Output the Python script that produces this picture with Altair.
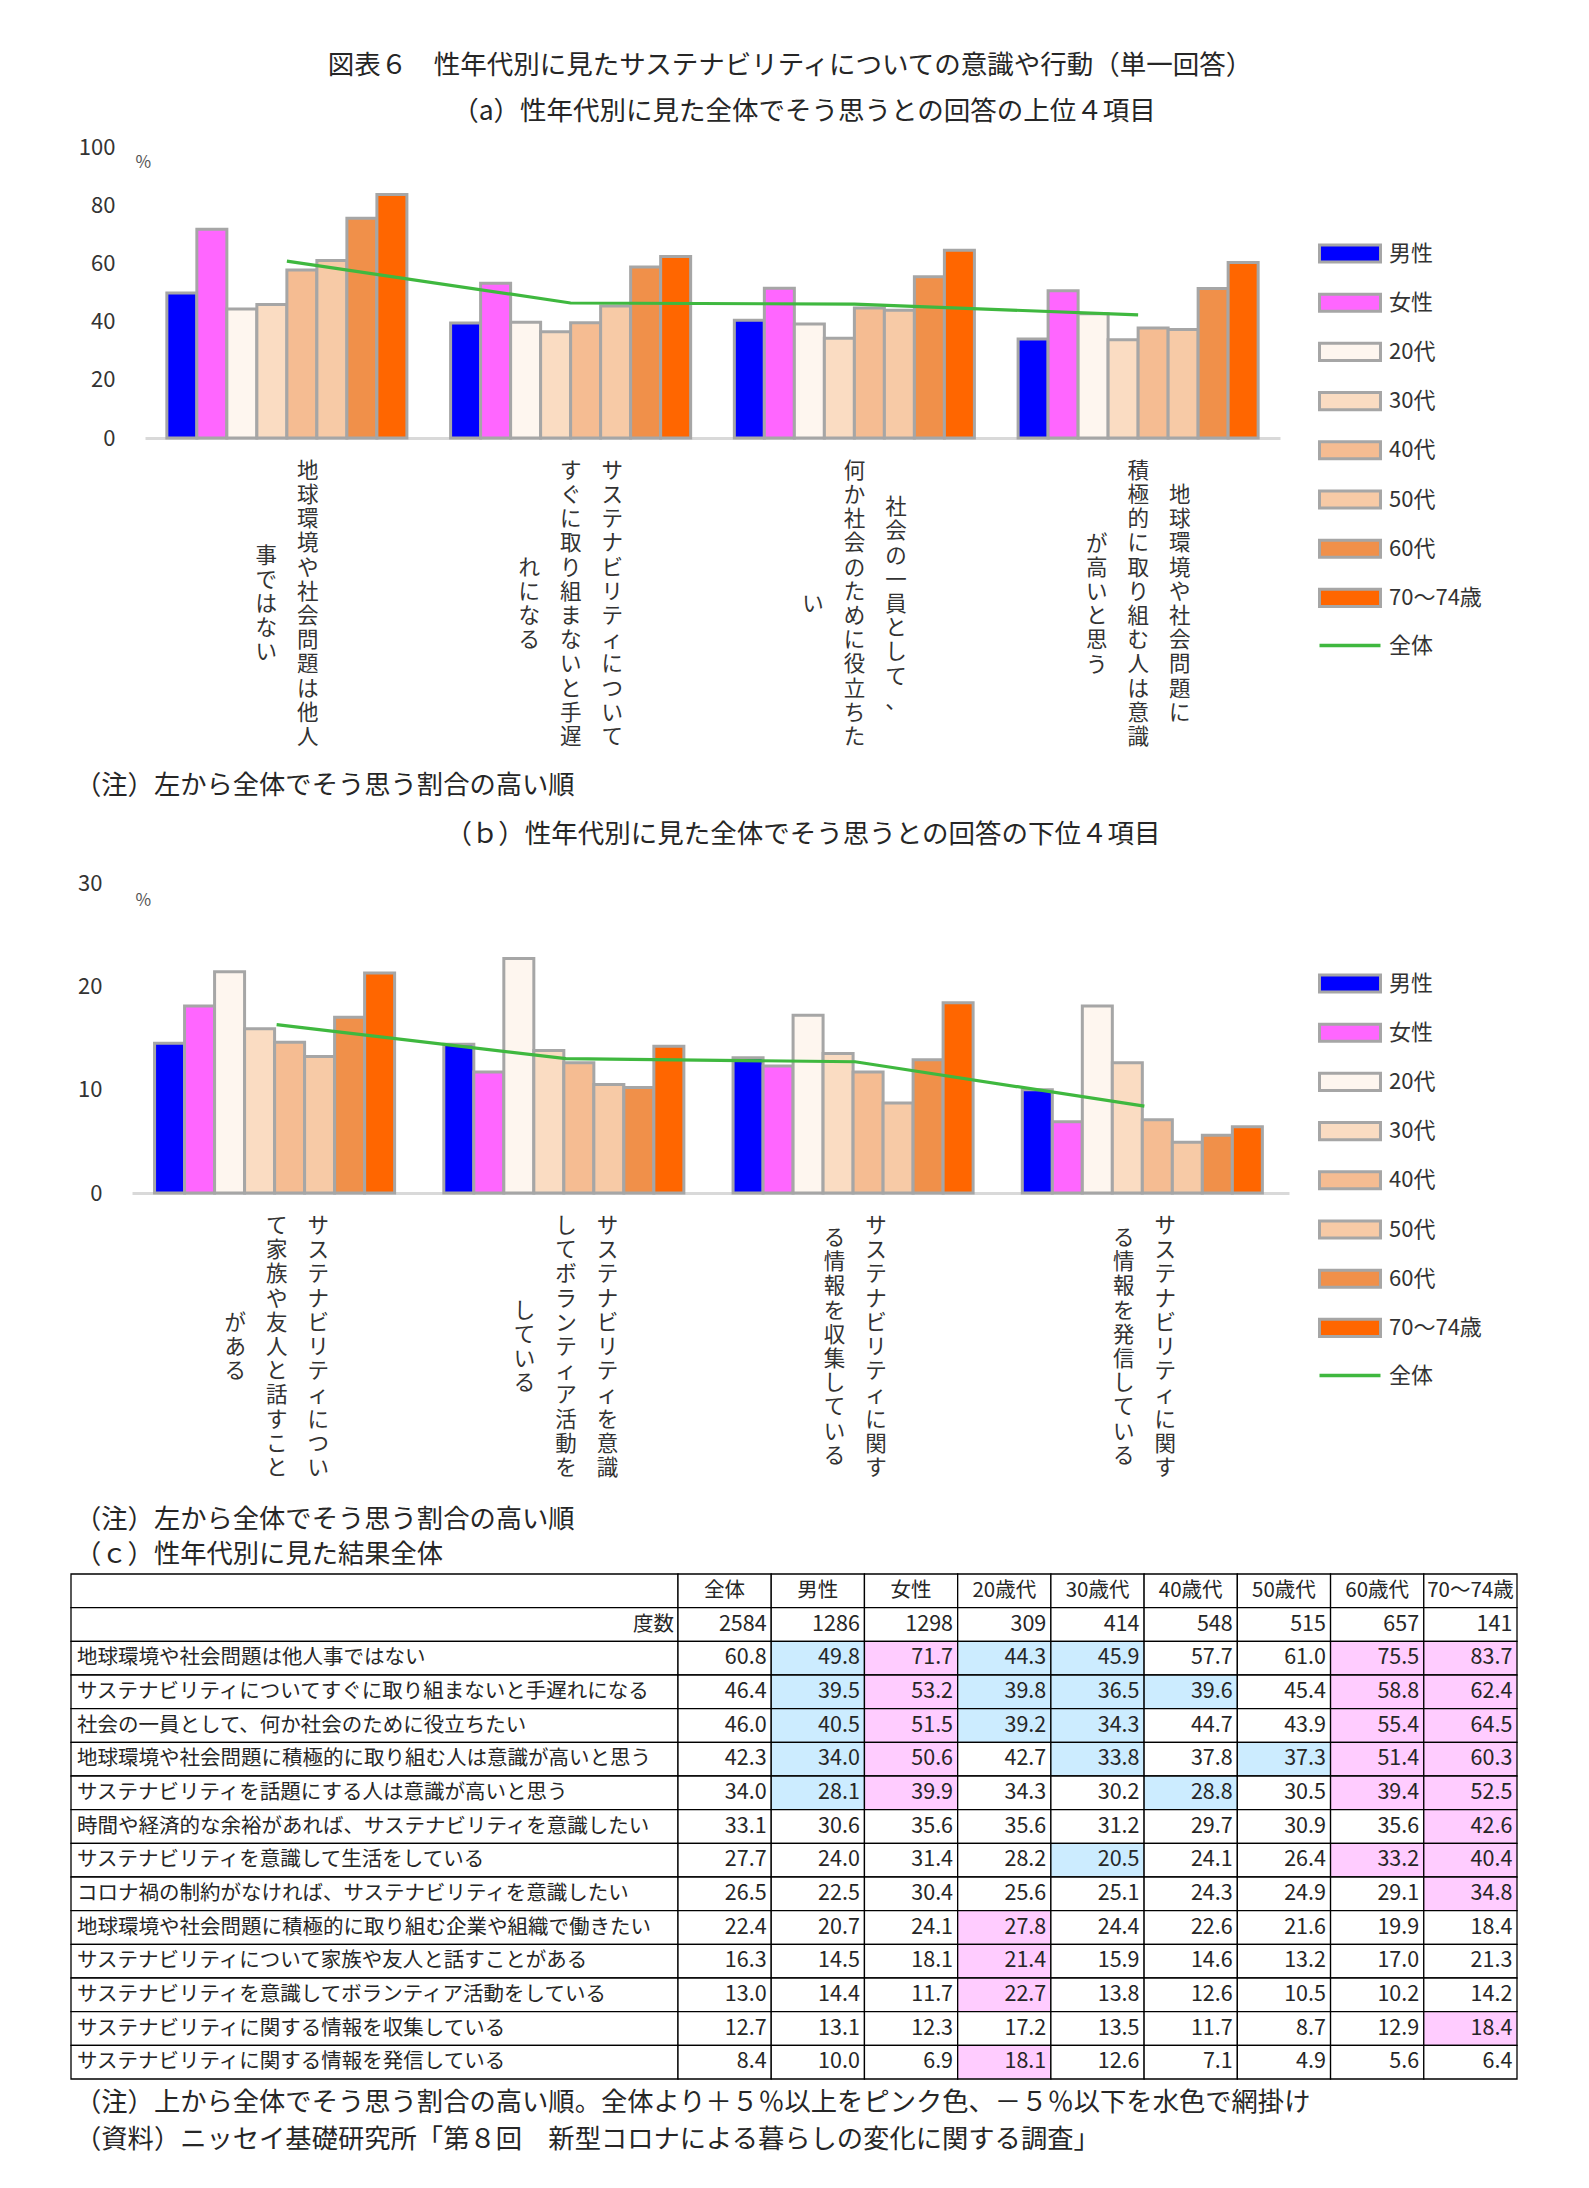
import altair as alt
import pandas as pd

FONT = "Noto Sans CJK JP"
TXT = "#262626"
GRAY = "#a6a6a6"
GREEN = "#3fb83f"

# ---------------- data ----------------
items = [
    "地球環境や社会問題は他人事ではない",
    "サステナビリティについてすぐに取り組まないと手遅れになる",
    "社会の一員として、何か社会のために役立ちたい",
    "地球環境や社会問題に積極的に取り組む人は意識が高いと思う",
    "サステナビリティを話題にする人は意識が高いと思う",
    "時間や経済的な余裕があれば、サステナビリティを意識したい",
    "サステナビリティを意識して生活をしている",
    "コロナ禍の制約がなければ、サステナビリティを意識したい",
    "地球環境や社会問題に積極的に取り組む企業や組織で働きたい",
    "サステナビリティについて家族や友人と話すことがある",
    "サステナビリティを意識してボランティア活動をしている",
    "サステナビリティに関する情報を収集している",
    "サステナビリティに関する情報を発信している",
]
total = [60.8, 46.4, 46.0, 42.3, 34.0, 33.1, 27.7, 26.5, 22.4, 16.3, 13.0, 12.7, 8.4]
male = [49.8, 39.5, 40.5, 34.0, 28.1, 30.6, 24.0, 22.5, 20.7, 14.5, 14.4, 13.1, 10.0]
female = [71.7, 53.2, 51.5, 50.6, 39.9, 35.6, 31.4, 30.4, 24.1, 18.1, 11.7, 12.3, 6.9]
age20 = [44.3, 39.8, 39.2, 42.7, 34.3, 35.6, 28.2, 25.6, 27.8, 21.4, 22.7, 17.2, 18.1]
age30 = [45.9, 36.5, 34.3, 33.8, 30.2, 31.2, 20.5, 25.1, 24.4, 15.9, 13.8, 13.5, 12.6]
age40 = [57.7, 39.6, 44.7, 37.8, 28.8, 29.7, 24.1, 24.3, 22.6, 14.6, 12.6, 11.7, 7.1]
age50 = [61.0, 45.4, 43.9, 37.3, 30.5, 30.9, 26.4, 24.9, 21.6, 13.2, 10.5, 8.7, 4.9]
age60 = [75.5, 58.8, 55.4, 51.4, 39.4, 35.6, 33.2, 29.1, 19.9, 17.0, 10.2, 12.9, 5.6]
age70 = [83.7, 62.4, 64.5, 60.3, 52.5, 42.6, 40.4, 34.8, 18.4, 21.3, 14.2, 18.4, 6.4]
counts = [2584, 1286, 1298, 309, 414, 548, 515, 657, 141]

# shading of table cells (男性..70～74歳): p = pink, b = light blue, . = none
shades = [
    "bpbb..pp", "bpbbb.pp", "bpbb..pp", "bp.b.bpp", "bp..b.pp",
    ".......p", "...b..pp", ".......p", "..p.....", "..p.....",
    "..p.....", ".......p", "..p.....",
]

series = ["男性", "女性", "20代", "30代", "40代", "50代", "60代", "70～74歳"]
series_arrays = [male, female, age20, age30, age40, age50, age60, age70]
fills = ["#0000ff", "#ff66ff", "#fef6ef", "#fadcc2", "#f5bc92", "#f7caa6", "#f0904a", "#ff6600"]

table_cols = ["全体", "男性", "女性", "20歳代", "30歳代", "40歳代", "50歳代", "60歳代", "70～74歳"]
table_arrays = [total] + series_arrays

labels_a = [
    ["地球環境や社会問題は他人", "事ではない"],
    ["サステナビリティについて", "すぐに取り組まないと手遅", "れになる"],
    ["社会の一員として、", "何か社会のために役立ちた", "い"],
    ["地球環境や社会問題に", "積極的に取り組む人は意識", "が高いと思う"],
]
labels_b = [
    ["サステナビリティについ", "て家族や友人と話すこと", "がある"],
    ["サステナビリティを意識", "してボランティア活動を", "している"],
    ["サステナビリティに関す", "る情報を収集している"],
    ["サステナビリティに関す", "る情報を発信している"],
]
rows_a = [0, 1, 2, 3]
rows_b = [9, 10, 11, 12]
ticks_a = [0, 20, 40, 60, 80, 100]
ticks_b = [0, 10, 20, 30]

title1 = "図表６　性年代別に見たサステナビリティについての意識や行動（単一回答）"
title_a = "（a）性年代別に見た全体でそう思うとの回答の上位４項目"
title_b = "（ｂ）性年代別に見た全体でそう思うとの回答の下位４項目"
title_c = "（ｃ）性年代別に見た結果全体"
note_ab = "（注）左から全体でそう思う割合の高い順"
note_c = "（注）上から全体でそう思う割合の高い順。全体より＋５％以上をピンク色、－５％以下を水色で網掛け"
source = "（資料）ニッセイ基礎研究所「第８回　新型コロナによる暮らしの変化に関する調査」"

# ---------------- layout constants ----------------
W = 1446
COLSTEP = 41.5
LINE_H = 24.2
LEG_X = 1262
LEG_STEP = 49.2
NOTE_SIZE = 26.3
TITLE_SIZE = 26.5


def text_layer(t, x, y, size=NOTE_SIZE, align="left"):
    return alt.Chart(pd.DataFrame({"t": [t]})).mark_text(
        align=align, baseline="middle", fontSize=size, color=TXT, font=FONT
    ).encode(x=alt.value(x), y=alt.value(y), text="t:N")


def xscale(rows, xrange, pin, pout):
    dom = [items[r] for r in rows]
    return dom, alt.Scale(domain=dom, range=xrange, paddingInner=pin, paddingOuter=pout)


def bar_chart(rows, ymax, yvals, height, xrange, pin, pout, yoff, tx, ty, leg_y):
    dom, xs = xscale(rows, xrange, pin, pout)
    recs = []
    for r in rows:
        for s, arr in zip(series, series_arrays):
            recs.append({"item": items[r], "series": s, "value": arr[r]})
    df = pd.DataFrame(recs)
    xaxis = alt.Axis(labels=False, ticks=False, title=None, grid=False,
                     domainColor="#d9d9d9", domainWidth=3)
    yaxis = alt.Axis(values=yvals, grid=False, domain=False, ticks=False, tickSize=0,
                     labelPadding=0, offset=yoff, labelFontSize=22, labelColor="#333333",
                     labelFont=FONT, title="%", titleAngle=0, titleX=tx, titleY=ty,
                     titleAlign="left", titleBaseline="middle", titleFontSize=17,
                     titleFontWeight="normal", titleColor="#555555", titleFont=FONT)
    yscale = alt.Scale(domain=[0, ymax])
    bars = alt.Chart(df).mark_bar(stroke=GRAY, strokeWidth=3).encode(
        x=alt.X("item:N", sort=dom, scale=xs, axis=xaxis),
        xOffset=alt.XOffset("series:N", sort=series,
                            scale=alt.Scale(domain=series, paddingInner=0, paddingOuter=0)),
        y=alt.Y("value:Q", scale=yscale, axis=yaxis),
        fill=alt.Fill("series:N", sort=series, scale=alt.Scale(domain=series, range=fills),
                      legend=alt.Legend(orient="none", legendX=LEG_X, legendY=leg_y, title=None,
                                        symbolType="M-2,-0.56H2V0.56H-2Z", symbolSize=930,
                                        symbolStrokeColor=GRAY, symbolStrokeWidth=3,
                                        labelFontSize=22, labelFont=FONT, labelColor="#333333",
                                        labelOffset=22, rowPadding=LEG_STEP - 32, padding=0)),
    )
    ldf = pd.DataFrame({"item": dom, "value": [total[r] for r in rows], "k": "全体"})
    line = alt.Chart(ldf).mark_line(strokeWidth=3.2).encode(
        x=alt.X("item:N", sort=dom, scale=xs, axis=xaxis),
        y=alt.Y("value:Q", scale=yscale, axis=yaxis),
        stroke=alt.Stroke("k:N", scale=alt.Scale(domain=["全体"], range=[GREEN]),
                          legend=alt.Legend(orient="none", legendX=LEG_X,
                                            legendY=leg_y + 8 * LEG_STEP - 1.5, title=None,
                                            symbolType="M-2,0H2", symbolSize=930,
                                            symbolStrokeWidth=3.5,
                                            labelFontSize=22, labelFont=FONT,
                                            labelColor="#333333", labelOffset=22, padding=0)),
    )
    return alt.layer(bars, line).resolve_scale(fill="independent", stroke="independent") \
        .properties(width=W, height=height)


def label_chart(rows, cols_list, xrange, pin, pout, height, label_y, extra):
    dom, xs = xscale(rows, xrange, pin, pout)
    layers = []
    for r, cols in zip(rows, cols_list):
        n = len(cols)
        for k, c in enumerate(cols):
            off = ((n - 1) / 2 - k) * COLSTEP
            dy = -(len(c) - 1) / 2 * LINE_H
            sub = pd.DataFrame({"item": [items[r]], "t": ["\n".join(list(c))]})
            layers.append(
                alt.Chart(sub).mark_text(dx=float(off), dy=float(dy), lineBreak="\n",
                                         lineHeight=LINE_H, align="center", baseline="middle",
                                         fontSize=21.5, color="#333333", font=FONT).encode(
                    x=alt.X("item:N", sort=dom, scale=xs, axis=None),
                    y=alt.value(label_y), text="t:N")
            )
    return alt.layer(*layers, *extra).properties(width=W, height=height)


# ---------------- sections ----------------
header = alt.layer(
    text_layer(title1, 719, 36, TITLE_SIZE, "center"),
    text_layer(title_a, 733, 82, TITLE_SIZE, "center"),
).properties(width=W, height=117)

chart_a = bar_chart(rows_a, 100, ticks_a, 291, [74, 1209], 0.154, 0.077, -44, 20, 15, 89.5)

mid_ab = label_chart(rows_a, labels_a, [74, 1209], 0.154, 0.077, 445, 167,
                     [text_layer(note_ab, 4, 348),
                      text_layer(title_b, 732, 397, TITLE_SIZE, "center")])

chart_b = bar_chart(rows_b, 30, ticks_b, 310, [61, 1218], 0.156, 0.078, -31, 33, 17, 83.5)

mid_bt = label_chart(rows_b, labels_b, [61, 1218], 0.156, 0.078, 381, 155,
                     [text_layer(note_ab, 4, 327), text_layer(title_c, 4, 362)])

# ---------------- table ----------------
LAB_W = 607
row_keys = ["hdr", "cnt"] + items
ys = alt.Scale(domain=row_keys, paddingInner=0, paddingOuter=0)
y_enc = alt.Y("row:N", sort=row_keys, scale=ys, axis=None)

lab_df = pd.DataFrame({"row": row_keys, "c": "a", "t": ["", "度数"] + items,
                       "al": ["l", "r"] + ["l"] * len(items)})
lab_x = alt.X("c:N", axis=None,
              scale=alt.Scale(domain=["a"], range=[0, LAB_W], paddingInner=0, paddingOuter=0))
lab_rect = alt.Chart(lab_df).mark_rect(fill="white", stroke="black", strokeWidth=1.3).encode(
    x=lab_x, y=y_enc)
lab_txt_l = alt.Chart(lab_df[lab_df["al"] == "l"]).mark_text(
    align="left", baseline="middle", fontSize=20.5, color=TXT, font=FONT).encode(
    x=alt.value(6), y=y_enc, text="t:N")
lab_txt_r = alt.Chart(lab_df[lab_df["al"] == "r"]).mark_text(
    align="right", baseline="middle", fontSize=20.5, color=TXT, font=FONT).encode(
    x=alt.value(LAB_W - 4), y=y_enc, text="t:N")

num_recs = []
for j, (col, arr) in enumerate(zip(table_cols, table_arrays)):
    num_recs.append({"row": "hdr", "col": col, "t": col, "shade": ".", "kind": "h"})
    num_recs.append({"row": "cnt", "col": col, "t": str(counts[j]), "shade": ".", "kind": "n"})
    for i, it in enumerate(items):
        sh = "." if j == 0 else shades[i][j - 1]
        num_recs.append({"row": it, "col": col, "t": f"{arr[i]:.1f}", "shade": sh, "kind": "n"})
num_df = pd.DataFrame(num_recs)
num_x = alt.X("col:N", sort=table_cols, axis=None,
              scale=alt.Scale(domain=table_cols, range=[LAB_W, W], paddingInner=0, paddingOuter=0))
num_rect = alt.Chart(num_df).mark_rect(stroke="black", strokeWidth=1.3).encode(
    x=num_x, y=y_enc,
    fill=alt.Fill("shade:N", scale=alt.Scale(domain=["p", "b", "."],
                                             range=["#ffccff", "#ccecff", "#ffffff"]),
                  legend=None))
num_hdr = alt.Chart(num_df[num_df["kind"] == "h"]).mark_text(
    align="center", baseline="middle", fontSize=20.5, color=TXT, font=FONT).encode(
    x=num_x, y=y_enc, text="t:N")
num_txt = alt.Chart(num_df[num_df["kind"] == "n"]).mark_text(
    align="right", baseline="middle", fontSize=21.5, dx=42, color=TXT, font=FONT).encode(
    x=num_x, y=y_enc, text="t:N")

table = alt.layer(lab_rect, num_rect, lab_txt_l, lab_txt_r, num_hdr, num_txt) \
    .resolve_scale(x="independent").properties(width=W, height=505)

footer = alt.layer(
    text_layer(note_c, 4, 24),
    text_layer(source, 4, 61),
).properties(width=W, height=91)

chart = alt.vconcat(header, chart_a, mid_ab, chart_b, mid_bt, table, footer,
                    spacing=0, bounds="flush") \
    .resolve_scale(fill="independent", stroke="independent") \
    .resolve_legend(fill="independent", stroke="independent") \
    .properties(padding={"top": 22, "left": 62, "right": 5, "bottom": 5}) \
    .configure(font=FONT).configure_view(strokeWidth=0)

chart.save("out.html", embed_options={"renderer": "svg", "actions": False})
